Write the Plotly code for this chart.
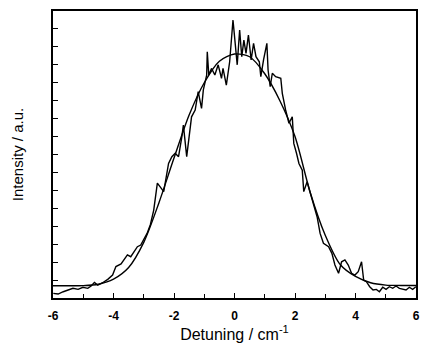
import plotly.graph_objects as go

# Measured (noisy) spectrum: detuning (cm^-1) and intensity (a.u.)
meas_x = [-5.99, -5.83, -5.66, -5.50, -5.34, -5.17, -5.01, -4.85, -4.74, -4.63,
          -4.52, -4.36, -4.19, -4.03, -3.92, -3.75, -3.65, -3.54, -3.43, -3.32,
          -3.21, -3.10, -2.99, -2.89, -2.78, -2.67, -2.55, -2.50, -2.34, -2.18,
          -2.07, -1.96, -1.85, -1.74, -1.69, -1.58, -1.52, -1.42, -1.30, -1.20,
          -1.09, -1.03, -0.92, -0.90, -0.85, -0.76, -0.65, -0.54, -0.43, -0.38,
          -0.27, -0.16, -0.05, 0.02, 0.06, 0.09, 0.17, 0.24, 0.31, 0.38,
          0.46, 0.55, 0.63, 0.71, 0.82, 0.87, 0.96, 1.07, 1.11, 1.18,
          1.25, 1.36, 1.53, 1.58, 1.69, 1.80, 1.91, 1.96, 2.05, 2.13,
          2.24, 2.29, 2.40, 2.49, 2.56, 2.64, 2.73, 2.83, 2.94, 3.11,
          3.22, 3.32, 3.44, 3.54, 3.65, 3.76, 3.87, 3.98, 4.09, 4.20,
          4.27, 4.36, 4.47, 4.58, 4.69, 4.79, 4.90, 5.01, 5.12, 5.23,
          5.34, 5.45, 5.56, 5.67, 5.78, 5.89, 6.00]
meas_y = [0.26, 0.22, 0.35, 0.45, 0.54, 0.48, 0.60, 0.54, 0.67, 0.87,
          0.72, 0.85, 1.04, 1.28, 1.75, 1.90, 2.12, 2.40, 2.30, 2.58,
          2.86, 2.95, 3.33, 3.60, 4.10, 4.90, 6.40, 6.30, 5.93, 7.50,
          7.88, 8.07, 7.88, 9.00, 9.64, 7.88, 8.62, 10.10, 10.48, 11.50,
          10.57, 11.60, 12.43, 13.73, 12.43, 12.80, 12.43, 13.00, 12.25, 12.80,
          11.87, 13.17, 15.50, 14.20, 13.80, 13.00, 14.94, 13.45, 14.38, 13.64,
          14.66, 13.27, 14.20, 13.45, 13.17, 12.34, 13.27, 14.20, 12.71, 11.78,
          12.53, 12.34, 12.25, 11.41, 10.48, 9.74, 10.10, 8.62, 8.07, 7.50,
          7.13, 5.93, 6.48, 5.93, 5.56, 5.09, 4.53, 3.60, 3.05, 2.86,
          2.49, 1.84, 1.38, 2.02, 2.12, 1.84, 1.38, 1.28, 1.47, 2.02,
          1.00, 0.91, 0.63, 0.45, 0.48, 0.35, 0.60, 0.48, 0.63, 0.54,
          0.67, 0.54, 0.48, 0.45, 0.60, 0.48, 0.63]

# Fitted (smooth) profile, read at 0.5 cm^-1 steps
fit_x = [-6.0, -5.5, -5.0, -4.5, -4.0, -3.5, -3.0, -2.5, -2.0, -1.5, -1.0, -0.5,
         0.0, 0.5, 1.0, 1.5, 2.0, 2.5, 3.0, 3.5, 4.0, 4.5, 5.0, 5.5, 6.0]
fit_y = [0.68, 0.68, 0.69, 0.77, 1.05, 1.70, 3.10, 5.30, 7.80, 10.20, 12.00, 13.20,
         13.60, 13.45, 12.50, 11.00, 9.00, 5.90, 3.50, 1.85, 1.20, 0.85, 0.72, 0.70, 0.70]

x_ticks = [-6, -4, -2, 0, 2, 4, 6]
x_ticklabels = ["-6", "-4", "-2", "0", "2", "4", "6"]

fig = go.Figure()
fig.add_trace(go.Scatter(x=fit_x, y=fit_y, mode="lines",
                         line=dict(color="black", width=1.4, shape="spline", smoothing=0.8),
                         hoverinfo="skip", showlegend=False))
fig.add_trace(go.Scatter(x=meas_x, y=meas_y, mode="lines",
                         line=dict(color="black", width=1.4),
                         hoverinfo="skip", showlegend=False))

font_family = "Liberation Sans, Arial, sans-serif"
fig.update_layout(
    width=422, height=344,
    margin=dict(l=53, r=2, t=11, b=46),
    paper_bgcolor="white", plot_bgcolor="white",
    font=dict(family=font_family, color="black"),
    showlegend=False,
)
fig.update_xaxes(
    range=[-6, 6], tickmode="array", tickvals=x_ticks, ticktext=x_ticklabels,
    ticks="inside", ticklen=5, tickwidth=1.3, tickcolor="black",
    minor=dict(dtick=1, ticks="inside", ticklen=4, tickwidth=1.2, tickcolor="black"),
    showline=True, linecolor="black", linewidth=1.5, mirror=True,
    showgrid=False, zeroline=False,
    tickfont=dict(size=12, family=font_family, weight="bold"),
    ticklabelstandoff=6,
    title=dict(text="Detuning / cm<sup>-1</sup>", font=dict(size=16, family=font_family), standoff=4),
)
fig.update_yaxes(
    range=[0, 16], dtick=1, showticklabels=False,
    ticks="inside", ticklen=5, tickwidth=1.3, tickcolor="black",
    showline=True, linecolor="black", linewidth=1.5, mirror=True,
    showgrid=False, zeroline=False,
    title=dict(text="Intensity / a.u.", font=dict(size=15, family=font_family), standoff=24),
)

fig.write_html("out.html")
